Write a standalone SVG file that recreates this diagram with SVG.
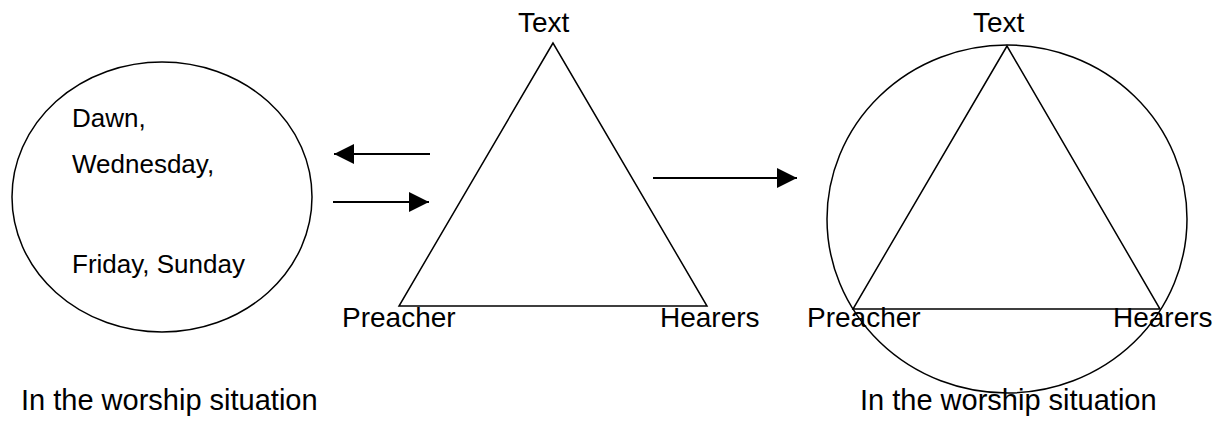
<svg xmlns="http://www.w3.org/2000/svg" width="1228" height="421" viewBox="0 0 1228 421">
<style>
.shape{fill:none;stroke:#000;stroke-width:1.5}
.conn{stroke:#000;stroke-width:2;fill:none}
.lbl{font-family:"Liberation Sans",Arial,sans-serif;font-size:28px;fill:#000}
.cap{font-family:"Liberation Sans",Arial,sans-serif;font-size:29px;fill:#000}
.sm{font-family:"Liberation Sans",Arial,sans-serif;font-size:26px;fill:#000}
</style>
<defs>
<marker id="ah" markerUnits="userSpaceOnUse" markerWidth="20" markerHeight="20" refX="20" refY="10" orient="auto">
<path d="M0,0 L20,10 L0,20 Z" fill="#000"/>
</marker>
</defs>
<rect width="1228" height="421" fill="#fff"/>
<g id="occasions">
<ellipse class="shape" cx="162" cy="197" rx="150" ry="135"/>
<text class="sm" x="72" y="127">Dawn,</text>
<text class="sm" x="72" y="173">Wednesday,</text>
<text class="sm" x="72" y="273">Friday, Sunday</text>
</g>
<g id="caption-left">
<text class="cap" x="21" y="410">In the worship situation</text>
</g>
<g id="triangle1">
<polygon class="shape" points="553,43 399,306 707,306"/>
<text class="lbl" x="518" y="32">Text</text>
<text class="lbl" x="342" y="327">Preacher</text>
<text class="lbl" x="660" y="327">Hearers</text>
</g>
<g id="triangle2">
<ellipse class="shape" cx="1007" cy="219" rx="180" ry="174"/>
<polygon class="shape" points="1007,46 853,309 1160,309"/>
<text class="lbl" x="973" y="32">Text</text>
<text class="lbl" x="807" y="327">Preacher</text>
<text class="lbl" x="1113" y="327">Hearers</text>
<text class="cap" x="860" y="410">In the worship situation</text>
</g>
<g id="connectors">
<line class="conn" x1="430" y1="154" x2="334" y2="154" marker-end="url(#ah)"/>
<line class="conn" x1="333" y1="202" x2="429" y2="202" marker-end="url(#ah)"/>
<line class="conn" x1="653" y1="178" x2="797" y2="178" marker-end="url(#ah)"/>
</g>
</svg>
